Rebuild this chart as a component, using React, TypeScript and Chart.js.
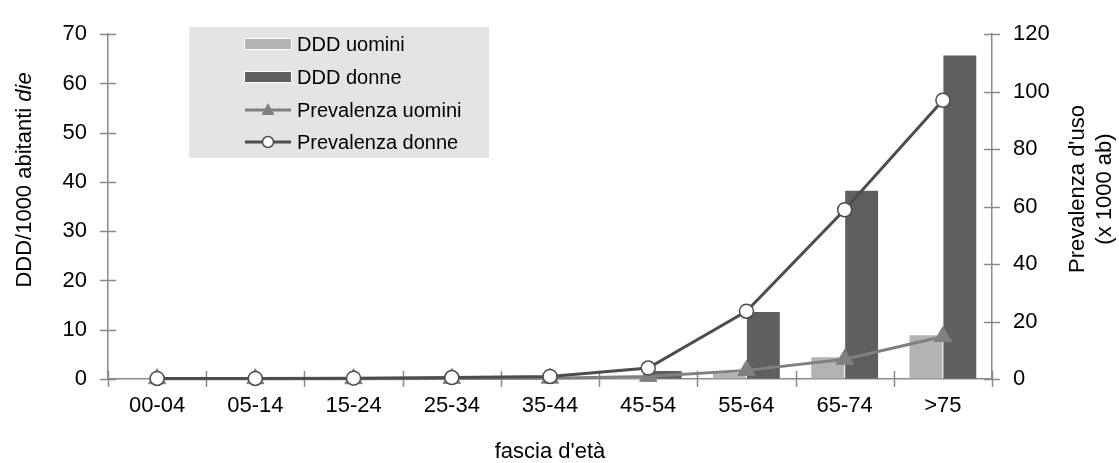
import React, { useEffect, useRef } from 'react';
import { Chart, registerables } from 'chart.js';

Chart.register(...registerables);

const categories = ['00-04', '05-14', '15-24', '25-34', '35-44', '45-54', '55-64', '65-74', '>75'];
const dddUomini = [0, 0, 0, 0, 0.1, 0.5, 1.3, 4.4, 8.9];
const dddDonne = [0, 0, 0, 0, 0.1, 1.6, 13.6, 38.2, 65.7];
const prevUomini = [0.1, 0.1, 0.1, 0.2, 0.3, 0.9, 3.0, 6.9, 14.8];
const prevDonne = [0.2, 0.2, 0.3, 0.5, 0.9, 3.8, 23.6, 58.9, 97.0];

const leftTicks = [0, 10, 20, 30, 40, 50, 60, 70];
const rightTicks = [0, 20, 40, 60, 80, 100, 120];

const seriesNames = ['DDD uomini', 'DDD donne', 'Prevalenza uomini', 'Prevalenza donne'];
const leftTitle = ['DDD/1000 abitanti ', 'die'];
const rightTitle = ["Prevalenza d'uso", '(x 1000 ab)'];
const xTitle = "fascia d'età";

const FONT = "'Liberation Sans', Arial, sans-serif";
const AXIS = '#8a8a8a';
const LIGHT = '#b3b3b3';
const DARK = '#5f5f5f';
const LINE_U = '#808080';
const LINE_D = '#4d4d4d';

export default function App() {
  const ref = useRef<HTMLCanvasElement>(null);

  useEffect(() => {
    const canvas = ref.current!;
    const decor = {
      id: 'decor',
      beforeDatasetsDraw(chart: any) {
        const ctx = chart.ctx;
        const a = chart.chartArea;
        const y = chart.scales.y;
        const y2 = chart.scales.y2;
        ctx.save();
        ctx.strokeStyle = AXIS;
        ctx.lineWidth = 1.5;
        ctx.beginPath();
        y.ticks.forEach((t: any) => {
          const py = Math.round(y.getPixelForValue(t.value)) + 0.5;
          ctx.moveTo(a.left - 8, py);
          ctx.lineTo(a.left + 8, py);
        });
        y2.ticks.forEach((t: any) => {
          const py = Math.round(y2.getPixelForValue(t.value)) + 0.5;
          ctx.moveTo(a.right - 8, py);
          ctx.lineTo(a.right + 8, py);
        });
        const n = categories.length;
        for (let i = 0; i <= n; i++) {
          const px = Math.round(a.left + ((a.right - a.left) * i) / n) + 0.5;
          ctx.moveTo(px, a.bottom - 8);
          ctx.lineTo(px, a.bottom + 8);
        }
        ctx.stroke();
        ctx.restore();
      },
      afterDraw(chart: any) {
        const ctx = chart.ctx;
        ctx.save();
        // legend box
        ctx.fillStyle = '#e4e4e4';
        ctx.fillRect(189, 27, 300, 131);
        const rows = [44, 77, 110, 142];
        const sx = 245;
        const ex = 291;
        // bars
        ctx.fillStyle = LIGHT;
        ctx.fillRect(sx, rows[0] - 5, ex - sx, 10);
        ctx.strokeStyle = '#ffffff';
        ctx.lineWidth = 1;
        ctx.strokeRect(sx - 0.5, rows[0] - 5.5, ex - sx + 1, 11);
        ctx.fillStyle = DARK;
        ctx.fillRect(sx, rows[1] - 5, ex - sx, 10);
        ctx.strokeRect(sx - 0.5, rows[1] - 5.5, ex - sx + 1, 11);
        // line uomini
        ctx.strokeStyle = LINE_U;
        ctx.lineWidth = 3;
        ctx.beginPath();
        ctx.moveTo(sx, rows[2]);
        ctx.lineTo(ex, rows[2]);
        ctx.stroke();
        const cx = (sx + ex) / 2;
        ctx.fillStyle = LINE_U;
        ctx.beginPath();
        ctx.moveTo(cx, rows[2] - 7);
        ctx.lineTo(cx + 6.5, rows[2] + 5);
        ctx.lineTo(cx - 6.5, rows[2] + 5);
        ctx.closePath();
        ctx.fill();
        // line donne
        ctx.strokeStyle = LINE_D;
        ctx.lineWidth = 3;
        ctx.beginPath();
        ctx.moveTo(sx, rows[3]);
        ctx.lineTo(ex, rows[3]);
        ctx.stroke();
        ctx.fillStyle = '#ffffff';
        ctx.lineWidth = 1.5;
        ctx.beginPath();
        ctx.arc(cx, rows[3], 5.5, 0, Math.PI * 2);
        ctx.fill();
        ctx.stroke();
        // legend text
        ctx.fillStyle = '#000000';
        ctx.font = `20px ${FONT}`;
        ctx.textBaseline = 'middle';
        ctx.textAlign = 'left';
        seriesNames.forEach((s, i) => ctx.fillText(s, 297, rows[i] + 1));

        // left title
        ctx.font = `22px ${FONT}`;
        const w1 = ctx.measureText(leftTitle[0]).width;
        ctx.font = `italic 22px ${FONT}`;
        const w2 = ctx.measureText(leftTitle[1]).width;
        ctx.save();
        ctx.translate(25, 180);
        ctx.rotate(-Math.PI / 2);
        ctx.textBaseline = 'middle';
        ctx.textAlign = 'left';
        const start = -(w1 + w2) / 2;
        ctx.font = `22px ${FONT}`;
        ctx.fillText(leftTitle[0], start, 0);
        ctx.font = `italic 22px ${FONT}`;
        ctx.fillText(leftTitle[1], start + w1, 0);
        ctx.restore();

        // right title
        ctx.save();
        ctx.font = `22px ${FONT}`;
        ctx.textAlign = 'center';
        ctx.textBaseline = 'middle';
        ctx.translate(1078, 189);
        ctx.rotate(-Math.PI / 2);
        ctx.fillText(rightTitle[0], 0, 0);
        ctx.fillText(rightTitle[1], 0, 27);
        ctx.restore();

        // x title
        ctx.font = `22px ${FONT}`;
        ctx.textAlign = 'center';
        ctx.textBaseline = 'middle';
        ctx.fillText(xTitle, 550, 452);
        ctx.restore();
      },
    };

    const chart = new Chart(canvas, {
      type: 'bar',
      data: {
        labels: categories,
        datasets: [
          {
            type: 'line',
            label: seriesNames[3],
            data: prevDonne,
            yAxisID: 'y2',
            borderColor: LINE_D,
            borderWidth: 3,
            pointStyle: 'circle',
            pointRadius: 7,
            pointBackgroundColor: '#ffffff',
            pointBorderColor: LINE_D,
            pointBorderWidth: 1.5,
            order: 0,
            clip: false,
          } as any,
          {
            type: 'line',
            label: seriesNames[2],
            data: prevUomini,
            yAxisID: 'y2',
            borderColor: LINE_U,
            borderWidth: 3,
            pointStyle: 'triangle',
            pointRadius: 10,
            pointBackgroundColor: LINE_U,
            pointBorderColor: LINE_U,
            pointBorderWidth: 1,
            order: 1,
            clip: false,
          } as any,
          {
            type: 'bar',
            label: seriesNames[0],
            data: dddUomini,
            yAxisID: 'y',
            backgroundColor: LIGHT,
            categoryPercentage: 0.69,
            barPercentage: 0.97,
            order: 2,
          } as any,
          {
            type: 'bar',
            label: seriesNames[1],
            data: dddDonne,
            yAxisID: 'y',
            backgroundColor: DARK,
            categoryPercentage: 0.69,
            barPercentage: 0.97,
            order: 2,
          } as any,
        ],
      },
      options: {
        responsive: false,
        animation: false,
        events: [],
        layout: { padding: { top: 23, left: 0, right: 0, bottom: 0 } },
        plugins: { legend: { display: false }, tooltip: { enabled: false } },
        scales: {
          x: {
            grid: { display: true, drawOnChartArea: false, drawTicks: false, color: 'transparent' },
            border: { display: true, color: AXIS, width: 1.5 },
            ticks: { color: '#000', font: { family: FONT, size: 22 }, padding: 14, maxRotation: 0, autoSkip: false },
            afterFit: (s: any) => { s.height = 84; },
          },
          y: {
            position: 'left',
            min: 0,
            max: 70,
            afterBuildTicks: (s: any) => { s.ticks = leftTicks.map((v) => ({ value: v })); },
            grid: { display: true, drawOnChartArea: false, drawTicks: false, color: 'transparent' },
            border: { display: true, color: AXIS, width: 1.5 },
            ticks: { color: '#000', font: { family: FONT, size: 22 }, padding: 21 },
            afterFit: (s: any) => { s.width = 108; },
          },
          y2: {
            position: 'right',
            min: 0,
            max: 120,
            afterBuildTicks: (s: any) => { s.ticks = rightTicks.map((v) => ({ value: v })); },
            grid: { display: true, drawOnChartArea: false, drawTicks: false, color: 'transparent' },
            border: { display: true, color: AXIS, width: 1.5 },
            ticks: { color: '#000', font: { family: FONT, size: 22 }, padding: 21 },
            afterFit: (s: any) => { s.width = 127; },
          },
        },
      },
      plugins: [decor],
    } as any);

    return () => chart.destroy();
  }, []);

  return (
    <div style={{ position: 'absolute', left: 0, top: 0, width: 1119, height: 463, background: '#fff' }}>
      <canvas ref={ref} width={1119} height={463} />
    </div>
  );
}
